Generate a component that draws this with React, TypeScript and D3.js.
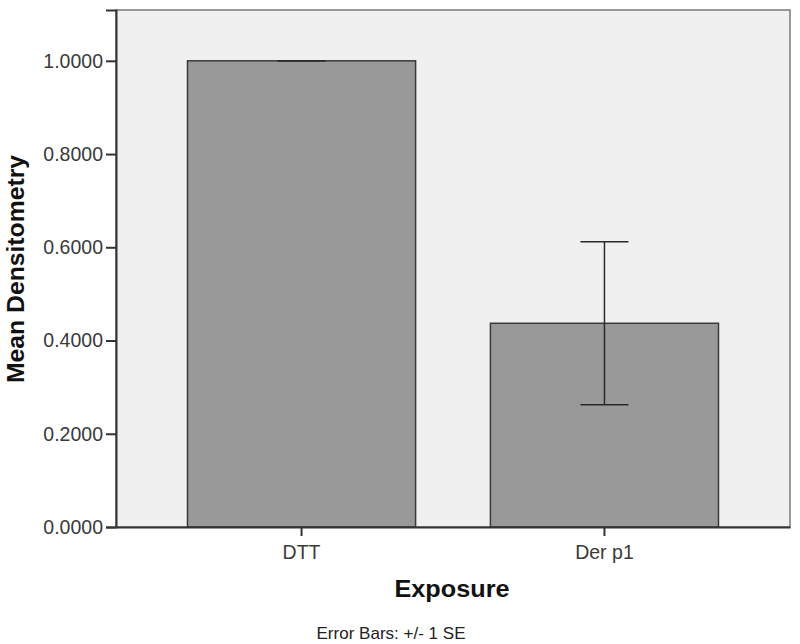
import React, { useEffect, useRef } from 'react'
import * as d3 from 'd3'

// Chart data
const categories = ['DTT', 'Der p1']
const means = [1.0, 0.437]
const standardErrors = [0.0, 0.175]
const yTicks = [0, 0.2, 0.4, 0.6, 0.8, 1.0]

const width = 800
const height = 644
const margin = { top: 10, right: 10, bottom: 117, left: 116 }
const font = '"Liberation Sans", Arial, sans-serif'

function App() {
    const ref = useRef<SVGSVGElement>(null)

    useEffect(() => {
        const svg = d3.select(ref.current)
        svg.selectAll('*').remove()

        const innerW = width - margin.left - margin.right
        const innerH = height - margin.top - margin.bottom

        const x = d3.scaleBand<string>()
            .domain(categories)
            .range([0, innerW])
            .paddingInner(0.247)
            .paddingOuter(0.236)
        const y = d3.scaleLinear().domain([0, 1.109]).range([innerH, 0])

        const g = svg.append('g').attr('transform', `translate(${margin.left}, ${margin.top})`)

        // plot background with frame
        g.append('rect')
            .attr('width', innerW)
            .attr('height', innerH)
            .attr('fill', '#f0f0f0')
            .attr('stroke', '#7a7a7a')
            .attr('stroke-width', 1.5)

        // bars
        g.selectAll('rect.bar')
            .data(categories)
            .enter()
            .append('rect')
            .attr('class', 'bar')
            .attr('x', d => x(d)!)
            .attr('width', x.bandwidth())
            .attr('y', (d, i) => y(means[i]))
            .attr('height', (d, i) => innerH - y(means[i]))
            .attr('fill', '#999999')
            .attr('stroke', '#3a3a3a')
            .attr('stroke-width', 1.5)

        // error bars
        const capHalf = 24
        categories.forEach((c, i) => {
            const cx = x(c)! + x.bandwidth() / 2
            const hi = y(means[i] + standardErrors[i])
            const lo = y(means[i] - standardErrors[i])
            const eg = g.append('g').attr('stroke', '#2a2a2a').attr('stroke-width', 1.5)
            eg.append('line').attr('x1', cx).attr('x2', cx).attr('y1', hi).attr('y2', lo)
            eg.append('line').attr('x1', cx - capHalf).attr('x2', cx + capHalf).attr('y1', hi).attr('y2', hi)
            eg.append('line').attr('x1', cx - capHalf).attr('x2', cx + capHalf).attr('y1', lo).attr('y2', lo)
        })

        // y axis
        const yAxis = g.append('g')
            .call(d3.axisLeft(y).tickValues(yTicks).tickFormat(d3.format('.4f')).tickSize(10).tickPadding(3))
        yAxis.select('.domain').attr('stroke', '#333').attr('stroke-width', 2)
        yAxis.selectAll('.tick line').attr('stroke', '#333').attr('stroke-width', 2)
        yAxis.selectAll('.tick text')
            .attr('fill', '#3a3a3a')
            .style('font-family', font)
            .style('font-size', '19.5px')

        // x axis
        const xAxis = g.append('g')
            .attr('transform', `translate(0, ${innerH})`)
            .call(d3.axisBottom(x).tickSize(9).tickPadding(9).tickSizeOuter(0))
        xAxis.select('.domain').attr('stroke', '#333').attr('stroke-width', 2)
        xAxis.selectAll('.tick line').attr('stroke', '#333').attr('stroke-width', 2)
        xAxis.selectAll('.tick text')
            .attr('fill', '#3a3a3a')
            .style('font-family', font)
            .style('font-size', '19.5px')

        // axis titles
        svg.append('text')
            .attr('x', 452)
            .attr('y', 597)
            .attr('text-anchor', 'middle')
            .attr('textLength', 115)
            .attr('lengthAdjust', 'spacingAndGlyphs')
            .style('font-family', font)
            .style('font-size', '23px')
            .style('font-weight', 'bold')
            .attr('fill', '#111')
            .text('Exposure')

        svg.append('text')
            .attr('transform', `translate(24, 269) rotate(-90)`)
            .attr('text-anchor', 'middle')
            .attr('textLength', 228)
            .attr('lengthAdjust', 'spacingAndGlyphs')
            .style('font-family', font)
            .style('font-size', '23px')
            .style('font-weight', 'bold')
            .attr('fill', '#111')
            .text('Mean Densitometry')

        svg.append('text')
            .attr('x', 391)
            .attr('y', 639)
            .attr('text-anchor', 'middle')
            .attr('textLength', 149)
            .attr('lengthAdjust', 'spacingAndGlyphs')
            .style('font-family', font)
            .style('font-size', '17px')
            .attr('fill', '#222')
            .text('Error Bars: +/- 1 SE')
    }, [])

    return (
        <div style={{ position: 'absolute', left: 0, top: 0 }}>
            <svg ref={ref} width={width} height={height} style={{ display: 'block', background: '#fff' }} />
        </div>
    )
}

export default App
